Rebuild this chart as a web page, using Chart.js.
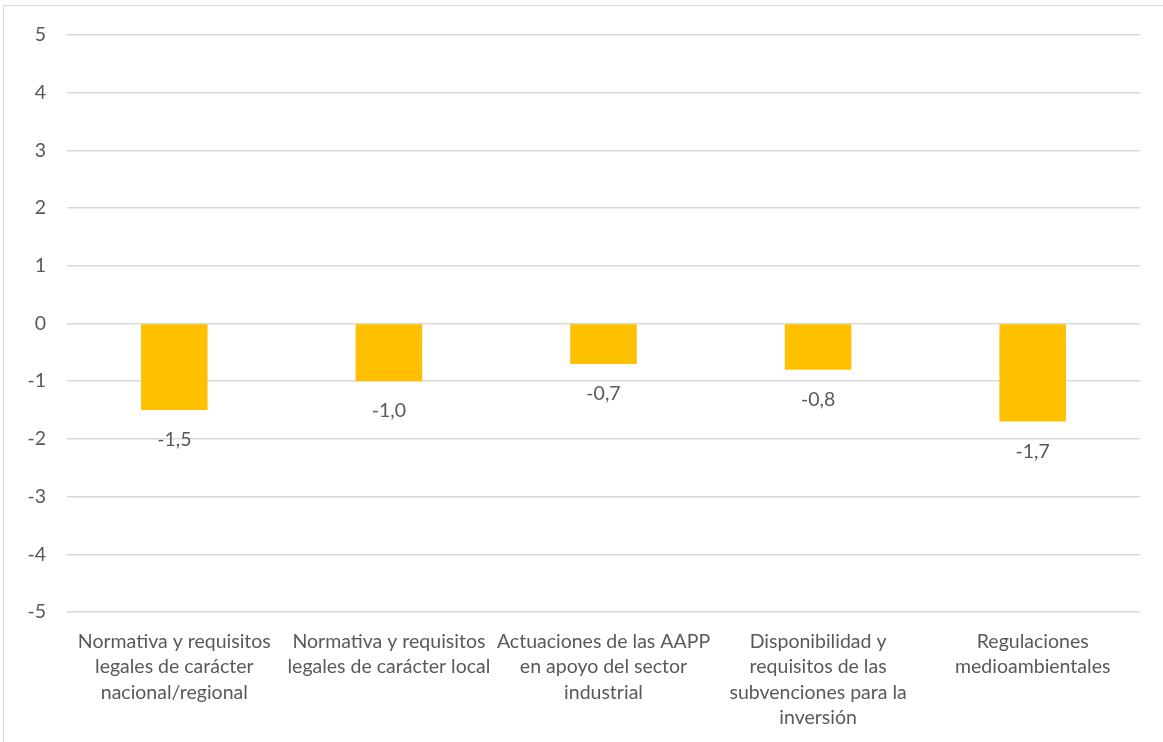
<!DOCTYPE html>
<html>
<head>
<meta charset="utf-8">
<script src="https://cdn.jsdelivr.net/npm/chart.js@4/dist/chart.umd.min.js"></script>
<style>
    html, body { margin: 0; padding: 0; background: #fff; overflow: hidden; }
    #marco { position: absolute; left: 3px; top: 5px; width: 1300px; height: 900px; border: 1.5px solid #d9d9d9; }
    #wrap { position: absolute; left: 0; top: 0; width: 1163px; height: 742px; }
</style>
</head>
<body>
<div id="marco"></div>
<div id="wrap"><canvas id="grafico" width="1163" height="742"></canvas></div>
<script>
var categorias = [
    ["Normativa y requisitos", "legales de carácter", "nacional/regional"],
    ["Normativa y requisitos", "legales de carácter local"],
    ["Actuaciones de las AAPP", "en apoyo del sector", "industrial"],
    ["Disponibilidad y", "requisitos de las", "subvenciones para la", "inversión"],
    ["Regulaciones", "medioambientales"]
];
var valores = [-1.5, -1.0, -0.7, -0.8, -1.7];
var ejeMin = -5;
var ejeMax = 5;

var gris = "#595959";
var fuente = "Lato, 'Open Sans', sans-serif";

// etiquetas de datos debajo de cada barra
var etiquetas = {
    id: "etiquetas",
    afterDatasetsDraw: function (chart) {
        var ctx = chart.ctx;
        var meta = chart.getDatasetMeta(0);
        ctx.save();
        ctx.fillStyle = gris;
        ctx.font = "19.5px " + fuente;
        ctx.textAlign = "center";
        ctx.textBaseline = "middle";
        meta.data.forEach(function (barra, i) {
            var txt = valores[i].toFixed(1).replace(".", ",");
            ctx.fillText(txt, barra.x, barra.y + 30);
        });
        ctx.restore();
    }
};

function carregarGrafico() {
    var ctx = document.getElementById("grafico");
    new Chart(ctx, {
        type: "bar",
        data: {
            labels: categorias,
            datasets: [{
                data: valores,
                backgroundColor: "#FFC000",
                borderWidth: 0,
                barPercentage: 0.31,
                categoryPercentage: 1
            }]
        },
        options: {
            responsive: false,
            animation: false,
            layout: { padding: { top: 35, right: 23, left: 0, bottom: 0 } },
            plugins: {
                legend: { display: false },
                tooltip: { enabled: false }
            },
            scales: {
                x: {
                    grid: { display: false },
                    border: { display: false },
                    afterFit: function (s) { s.height = 130; },
                    ticks: {
                        color: gris,
                        padding: 9,
                        maxRotation: 0,
                        autoSkip: false,
                        font: { family: fuente, size: 19.5, lineHeight: 1.3 }
                    }
                },
                y: {
                    min: ejeMin,
                    max: ejeMax,
                    afterFit: function (s) { s.width = 67; },
                    grid: { color: "#d9d9d9", lineWidth: 1.5, drawTicks: false },
                    border: { display: false },
                    ticks: {
                        stepSize: 1,
                        color: gris,
                        padding: 21,
                        font: { family: fuente, size: 19.5 }
                    }
                }
            }
        },
        plugins: [etiquetas]
    });
}

window.onload = function () {
    carregarGrafico();
};
</script>
</body>
</html>
